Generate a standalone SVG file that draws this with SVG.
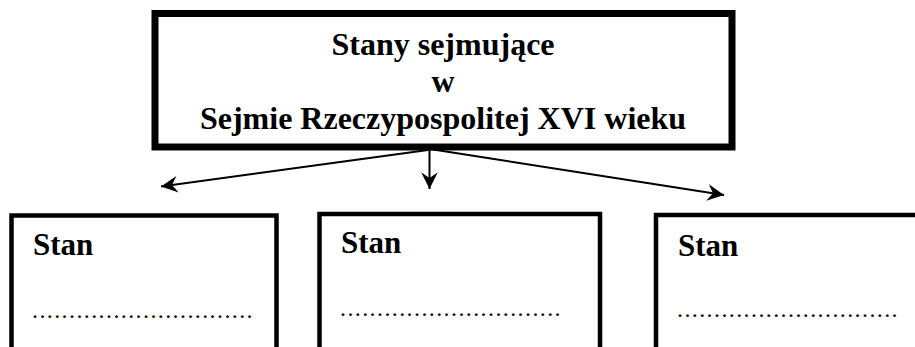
<svg xmlns="http://www.w3.org/2000/svg" width="915" height="347" viewBox="0 0 915 347">
<style>
.t{font-family:'Liberation Serif','Times New Roman','DejaVu Serif',serif;font-weight:700;fill:#000}
.title{font-size:32px;text-anchor:middle}
.stan{font-size:31px}
.dots{font-family:'Liberation Serif','Times New Roman','DejaVu Serif',serif;font-size:24px;letter-spacing:1.4px;fill:#000}
.box{fill:#fff;stroke:#000}
.conn{stroke:#000;stroke-width:2;fill:none;marker-end:url(#ah)}
</style>
<defs>
<marker id="ah" markerUnits="userSpaceOnUse" markerWidth="20" markerHeight="20" viewBox="-16 -8 18 16" refX="0" refY="0" orient="auto">
<path d="M0,0 L-15,-7.5 L-10,0 L-15,7.5 Z" fill="#000"/>
</marker>
</defs>
<rect width="915" height="347" fill="#fff"/>
<g id="connectors">
<line class="conn" x1="428" y1="150" x2="161" y2="186.5"/>
<line class="conn" x1="429.5" y1="150" x2="429.5" y2="189"/>
<line class="conn" x1="430" y1="149" x2="724" y2="195"/>
</g>
<g id="top">
<rect class="box" x="155" y="13.5" width="577" height="133.5" stroke-width="7"/>
<text class="t title" x="443" y="55">Stany sejmujące</text>
<text class="t title" x="443" y="92">w</text>
<text class="t title" x="443" y="129">Sejmie Rzeczypospolitej XVI wieku</text>
</g>
<g id="box1">
<rect class="box" x="11.5" y="215.5" width="265" height="160" stroke-width="4.5"/>
<text class="t stan" x="33" y="255">Stan</text>
<text class="dots" x="32" y="318">..............................</text>
</g>
<g id="box2">
<rect class="box" x="319.5" y="214" width="280.5" height="160" stroke-width="4.5"/>
<text class="t stan" x="341" y="253">Stan</text>
<text class="dots" x="340" y="316">..............................</text>
</g>
<g id="box3">
<rect class="box" x="656" y="215" width="300" height="160" stroke-width="4.5"/>
<text class="t stan" x="678" y="256">Stan</text>
<text class="dots" x="677" y="317">..............................</text>
</g>
</svg>
